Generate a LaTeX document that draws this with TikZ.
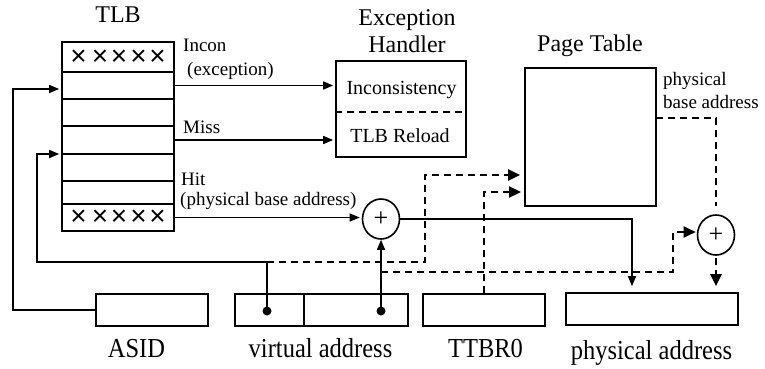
\documentclass[tikz,border=0pt]{standalone}
\usepackage{fontspec}
\setmainfont{Liberation Serif}
\newfontfamily\crossfont{Liberation Sans}
\usepackage{graphicx}
\usetikzlibrary{arrows.meta,calc,shapes.geometric}
\begin{document}
\begin{tikzpicture}[x=1pt,y=-1pt,
  box/.style={draw,line width=1.7pt,inner sep=0pt,rectangle},
  lab/.style={inner sep=0pt,font=\fontsize{19}{22}\selectfont},
  head/.style={inner sep=0pt,font=\fontsize{24}{27}\selectfont},
  bot/.style={inner sep=0pt,font=\fontsize{24.5}{28}\selectfont},
  inbox/.style={inner sep=0pt,font=\fontsize{20}{24}\selectfont},
  cross/.style={inner sep=0pt,font=\crossfont\fontsize{28}{30}\selectfont},
  plus/.style={draw,ellipse,line width=1.6pt,minimum width=37pt,minimum height=40pt,inner sep=0pt,font=\fontsize{26}{28}\selectfont},
  arr/.style={line width=1.5pt,-{Triangle[length=10pt,width=8pt]},shorten >=2pt},
  dline/.style={line width=2.2pt,dash pattern=on 7pt off 5pt},
  darr/.style={dline,-{Triangle[length=12pt,width=11pt]},shorten >=4pt},
  dot/.style={circle,fill,inner sep=0pt,minimum size=9pt}]
\useasboundingbox (0,0) rectangle (765,369);

% TLB rows
\node[box,minimum width=112pt,minimum height=30pt] (r1) at (118,57) {};
\node[box,minimum width=112pt,minimum height=27pt] (r2) at (118,85.5) {};
\node[box,minimum width=112pt,minimum height=27pt] (r3) at (118,112.5) {};
\node[box,minimum width=112pt,minimum height=28pt] (r4) at (118,140) {};
\node[box,minimum width=112pt,minimum height=27pt] (r5) at (118,167.5) {};
\node[box,minimum width=112pt,minimum height=23pt] (r6) at (118,192.5) {};
\node[box,minimum width=112pt,minimum height=27pt] (r7) at (118,217.5) {};
\foreach \i/\xx in {1/78.5,2/100,3/119,4/138.5,5/157.5}{
  \node[cross] (xa\i) at (\xx,58) {×};
  \node[cross] (xb\i) at (\xx,218) {×};
}
\node[head,anchor=base] (tlbh) at (118,23) {TLB};

% Exception handler
\node[box,minimum width=130pt,minimum height=96pt] (exc) at (401,109) {};
\draw[dline] ($(exc.west)+(0,3)$) -- ($(exc.east)+(0,3)$);
\node[inbox,anchor=base] (inc) at (401.5,94) {Inconsistency};
\node[inbox,anchor=base] (rel) at (400,142) {TLB Reload};
\node[head,align=center,anchor=south] (exch) at (407,53) {Exception\\Handler};

% Page table
\node[box,minimum width=131pt,minimum height=138pt] (pt) at (590.5,137) {};
\node[head,anchor=base] (pth) at (590,52) {Page Table};

% adders
\node[plus] (p1) at (381,219) {+};
\node[plus] (p2) at (716,235) {+};

% bottom registers
\node[box,minimum width=112pt,minimum height=32pt] (asid) at (152,310) {};
\node[box,minimum width=69pt,minimum height=32pt] (va1) at (269.5,310) {};
\node[box,minimum width=104pt,minimum height=32pt] (va2) at (356,310) {};
\node[box,minimum width=122pt,minimum height=32pt] (ttbr) at (484,310) {};
\node[box,minimum width=172pt,minimum height=32pt] (pa) at (652,309) {};
\node[bot,anchor=base] (lasid) at (136.5,357) {\scalebox{1}[1.12]{ASID}};
\node[bot,anchor=base] (lva) at (320.5,357) {\scalebox{1}[1.12]{virtual address}};
\node[bot,anchor=base] (lttbr) at (485.5,357) {\scalebox{1}[1.12]{TTBR0}};
\node[bot,anchor=base] (lpa) at (651.5,359) {\scalebox{1}[1.12]{physical address}};

% labels
\node[lab,anchor=base west] (lincon) at (183,52) {Incon};
\node[lab,anchor=base west] (lexc) at (187,75) {(exception)};
\node[lab,anchor=base west] (lmiss) at (183,133) {Miss};
\node[lab,anchor=base west] (lhit) at (181,185) {Hit};
\node[lab,anchor=base west] (lpba) at (180,205) {(physical base address)};
\node[lab,anchor=base west] (lphys) at (663,85) {physical};
\node[lab,anchor=base west] (lbase) at (663,108) {base address};

% coordinates
\coordinate (a1) at (13,89);
\coordinate (b1) at (37,154);
\coordinate (jn) at (267,262);
\coordinate (vd1) at (267,311);
\coordinate (vd2) at (381,311);
\coordinate (c0) at (425,175);
\coordinate (d0) at (381,272);
\coordinate (d1) at (673,232);
\coordinate (t1) at (525,192);
\coordinate (e1) at (656,118);
\coordinate (f1) at (632,219);

% TLB outputs
\draw[arr] (r2.east) -- (r2.east -| exc.west);
\draw[arr] (r4.east) -- (r4.east -| exc.west);
\draw[arr] (r7.east) -- (r7.east -| p1.west);

% ASID into TLB
\draw[arr] (asid.west) -| (a1) -- (a1 -| r2.west);
% virtual address index into TLB
\node[dot] (dt1) at (vd1) {};
\node[dot] (dt2) at (vd2) {};
\draw[arr] (dt1.center) -- (jn) -| (b1) -- (b1 -| r5.west);
\draw[arr,shorten >=0pt] (dt2.center) -- (p1.south);

% dashed walk paths
\draw[darr] (jn) -- (jn -| c0) -- (c0) -- (c0 -| pt.west);
\draw[darr,shorten >=1pt] (d0) -| (d1) -- (d1 -| p2.west);
\draw[darr] (ttbr.north) |- (t1);
\draw[dline,shorten >=8pt] (e1) -| (p2.north);
\draw[darr,shorten >=6pt,shorten <=2pt] (p2.south) -- (p2.south |- pa.north);

% hit result to physical address
\draw[arr,shorten >=6pt] (p1.east) -- (f1) -- (f1 |- pa.north);
\end{tikzpicture}
\end{document}
